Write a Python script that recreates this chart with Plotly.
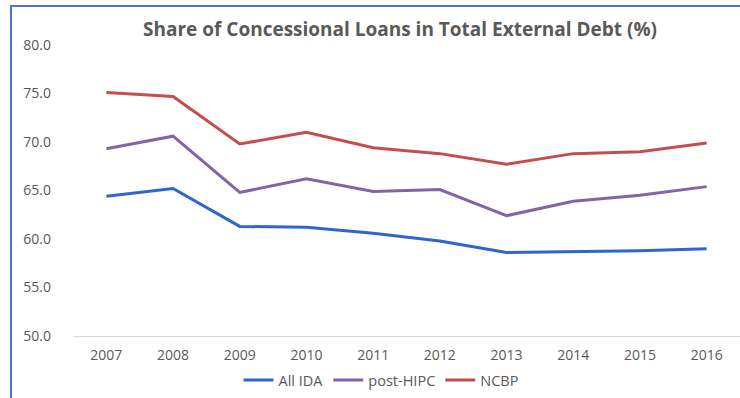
import plotly.graph_objects as go

years = ["2007", "2008", "2009", "2010", "2011", "2012", "2013", "2014", "2015", "2016"]
all_ida = [64.4, 65.2, 61.3, 61.2, 60.6, 59.8, 58.6, 58.7, 58.8, 59.0]
post_hipc = [69.3, 70.6, 64.8, 66.2, 64.9, 65.1, 62.4, 63.9, 64.5, 65.4]
ncbp = [75.1, 74.7, 69.8, 71.0, 69.4, 68.8, 67.7, 68.8, 69.0, 69.9]

series = [
    ("All IDA", all_ida, "#2E66CC"),
    ("post-HIPC", post_hipc, "#8264A8"),
    ("NCBP", ncbp, "#C44E4C"),
]

W, H = 740, 398
ML, MR, MT, MB = 73, 0, 45, 62
pw, ph = W - ML - MR, H - MT - MB

fig = go.Figure()
for name, vals, color in series:
    fig.add_trace(go.Scatter(x=years, y=vals, name=name, mode="lines",
                             line=dict(color=color, width=3)))

# frame around the chart (open at right and bottom edges)
def px_x(p):
    return (p - ML) / pw

def px_y(p):
    return (H - MB - p) / ph

fig.add_shape(type="rect", xref="paper", yref="paper",
              x0=px_x(11), x1=px_x(760), y0=px_y(420), y1=px_y(6),
              line=dict(color="#4A78D0", width=2), layer="below")

grey = "#595959"
fig.update_layout(
    width=W, height=H,
    margin=dict(l=ML, r=MR, t=MT, b=MB),
    paper_bgcolor="white", plot_bgcolor="white",
    font=dict(family="Open Sans", color=grey, size=13),
    title=dict(text="<b>Share of Concessional Loans in Total External Debt (%)</b>",
               x=400 / W, xanchor="center", y=1 - 29 / H, yanchor="middle",
               font=dict(size=19, color=grey)),
    showlegend=True,
    legend=dict(orientation="h", x=px_x(381), xanchor="center",
                y=px_y(380), yanchor="middle",
                font=dict(size=14.5, color=grey), itemwidth=30),
    xaxis=dict(type="category", range=[-0.5, 9.5], showgrid=False,
               showline=True, linecolor="#D9D9D9", linewidth=1,
               ticks="", tickfont=dict(size=14, color=grey),
               ticklabelstandoff=6),
    yaxis=dict(range=[50, 80], dtick=5, tickformat=".1f", showgrid=False,
               zeroline=False, showline=False, ticks="",
               tickfont=dict(size=14, color=grey), ticklabelstandoff=21),
)

fig.write_html("out.html")
